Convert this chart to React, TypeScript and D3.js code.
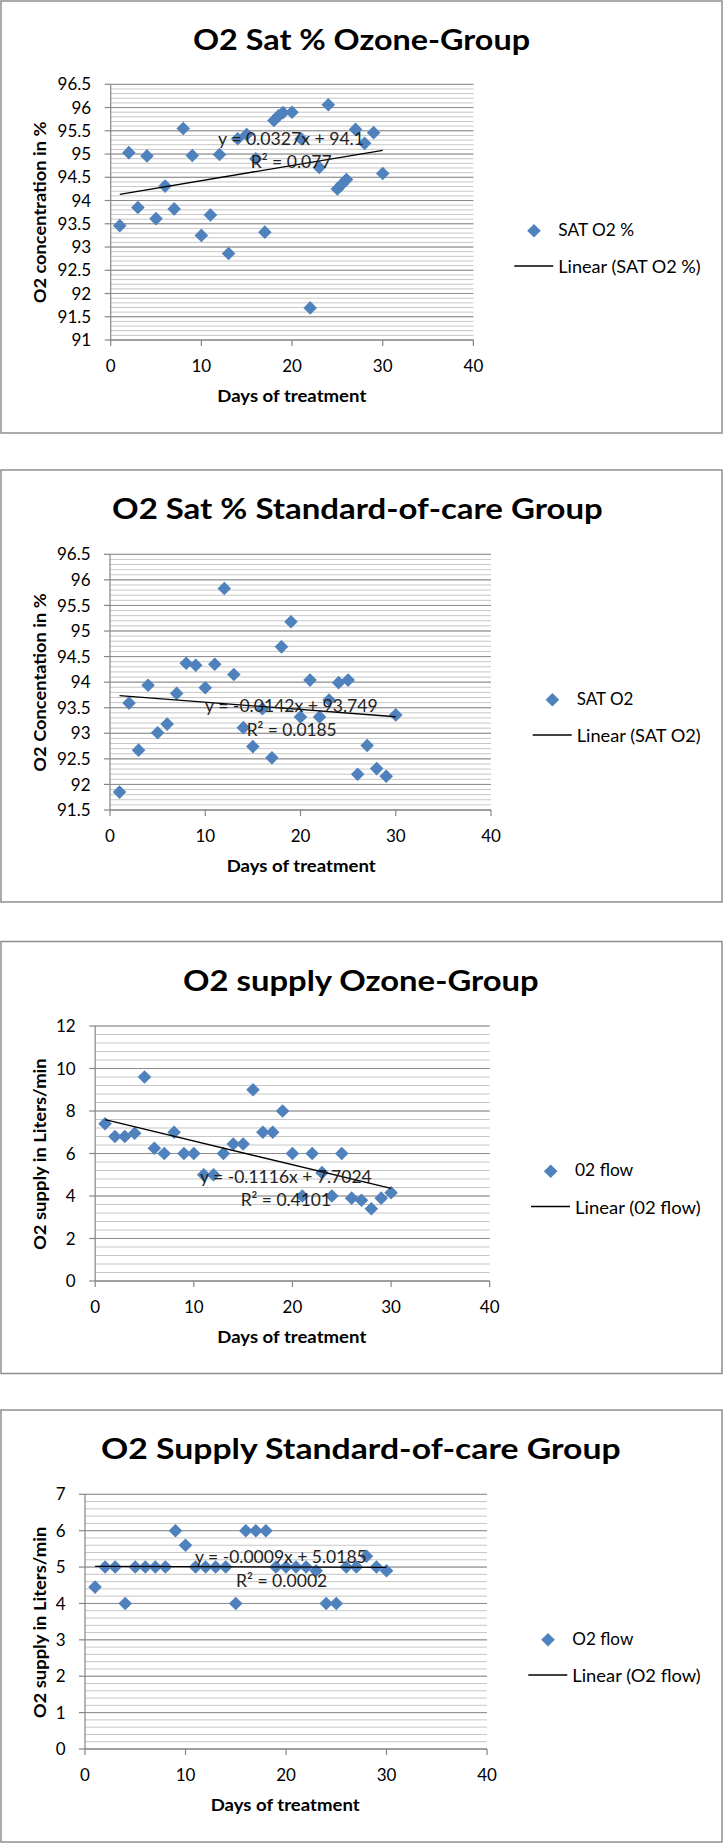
import React from 'react';
import * as d3 from 'd3';

// ---------- DATA ----------
const chartTitles = [
  'O2 Sat % Ozone-Group',
  'O2 Sat % Standard-of-care Group',
  'O2 supply Ozone-Group',
  'O2 Supply  Standard-of-care Group',
];
const yAxisTitles = [
  'O2 concentration in %',
  'O2 Concentation in %',
  'O2 supply in Liters/min',
  'O2 supply in Liters/min',
];
const xAxisTitle = 'Days of treatment';
const seriesNames = ['SAT O2 %', 'SAT O2', '02 flow', 'O2 flow'];
const trendNames = ['Linear (SAT O2 %)', 'Linear (SAT O2)', 'Linear (02 flow)', 'Linear (O2 flow)'];

const xTicks = [0, 10, 20, 30, 40];

const ozoneSatDays = [1, 2, 3, 4, 5, 6, 7, 8, 9, 10, 11, 12, 13, 14, 15, 16, 17, 18, 18.5, 19, 20, 21, 22, 23, 24, 25, 25.5, 26, 27, 28, 29, 30];
const ozoneSatValues = [93.46, 95.03, 93.85, 94.96, 93.61, 94.31, 93.82, 95.55, 94.97, 93.25, 93.69, 94.99, 92.86, 95.33, 95.42, 94.9, 93.32, 95.72, 95.82, 95.89, 95.9, 95.33, 91.69, 94.71, 96.06, 94.25, 94.35, 94.45, 95.53, 95.23, 95.46, 94.58];

const socSatDays = [1, 2, 3, 4, 5, 6, 7, 8, 9, 10, 11, 12, 13, 14, 15, 16, 17, 18, 19, 20, 21, 22, 23, 24, 25, 26, 27, 28, 29, 30];
const socSatValues = [91.85, 93.59, 92.67, 93.94, 93.01, 93.18, 93.78, 94.37, 94.33, 93.89, 94.35, 95.83, 94.15, 93.11, 92.74, 93.48, 92.52, 94.69, 95.18, 93.32, 94.04, 93.32, 93.65, 93.99, 94.04, 92.2, 92.76, 92.31, 92.16, 93.36];

const ozoneFlowDays = [1, 2, 3, 4, 5, 6, 7, 8, 9, 10, 11, 12, 13, 14, 15, 16, 17, 18, 19, 20, 21, 22, 23, 24, 25, 26, 27, 28, 29, 30];
const ozoneFlowValues = [7.4, 6.8, 6.8, 6.95, 9.6, 6.25, 6.0, 7.0, 6.0, 6.0, 5.0, 5.0, 6.0, 6.45, 6.45, 9.0, 7.0, 7.0, 8.0, 6.0, 4.0, 6.0, 5.1, 4.0, 6.0, 3.9, 3.8, 3.4, 3.9, 4.15];

const socFlowDays = [1, 2, 3, 4, 5, 6, 7, 8, 9, 10, 11, 12, 13, 14, 15, 16, 17, 18, 19, 20, 21, 22, 23, 24, 25, 26, 27, 28, 29, 30];
const socFlowValues = [4.45, 5, 5, 4, 5, 5, 5, 5, 6, 5.6, 5, 5, 5, 5, 4, 6, 6, 6, 5, 5, 5, 5, 4.9, 4, 4, 5, 5, 5.3, 5, 4.9];

const trendSlopes = [0.0327, -0.0142, -0.1116, -0.0009];
const trendIntercepts = [94.1, 93.749, 7.7024, 5.0185];
const trendEquations = ['y = 0.0327x + 94.1', 'y = -0.0142x + 93.749', 'y = -0.1116x + 7.7024', 'y = -0.0009x + 5.0185'];
const trendR2 = ['R² = 0.077', 'R² = 0.0185', 'R² = 0.4101', 'R² = 0.0002'];

const yTicks1 = [91, 91.5, 92, 92.5, 93, 93.5, 94, 94.5, 95, 95.5, 96, 96.5];
const yTicks2 = [91.5, 92, 92.5, 93, 93.5, 94, 94.5, 95, 95.5, 96, 96.5];
const yTicks3 = [0, 2, 4, 6, 8, 10, 12];
const yTicks4 = [0, 1, 2, 3, 4, 5, 6, 7];

// ---------- LAYOUT ----------
const FONT = 'Lato, Carlito, Calibri, "Open Sans", sans-serif';
const BLUE = '#4F81BD';

type Cfg = {
  top: number;
  idx: number;
  days: number[];
  values: number[];
  yTicks: number[];
  minorStep: number;
  px0: number; px1: number; py0: number; py1: number;
  titleX: number; titleW: number;
  xtX: number;
  ytMid: number; ytW: number;
  eqX: number; eqW: number; eqY: number;
  r2X: number; r2W: number; r2Y: number;
  legX: number; serW: number; trW: number;
};

const configs: Cfg[] = [
  { top: 1, idx: 0, days: ozoneSatDays, values: ozoneSatValues, yTicks: yTicks1, minorStep: 0.1,
    px0: 110.7, px1: 473.4, py0: 84.3, py1: 340,
    titleX: 193, titleW: 337, xtX: 217.3, ytMid: 212.5, ytW: 181.7,
    eqX: 218, eqW: 146, eqY: 145, r2X: 250.7, r2W: 81, r2Y: 168,
    legX: 558.3, serW: 75.7, trW: 142.4 },
  { top: 470, idx: 1, days: socSatDays, values: socSatValues, yTicks: yTicks2, minorStep: 0.1,
    px0: 110, px1: 491, py0: 554.3, py1: 810,
    titleX: 112, titleW: 490.7, xtX: 226.7, ytMid: 682.5, ytW: 178.3,
    eqX: 205, eqW: 172.7, eqY: 711.5, r2X: 246.7, r2W: 90, r2Y: 735.5,
    legX: 576.7, serW: 56.7, trW: 124 },
  { top: 941.5, idx: 2, days: ozoneFlowDays, values: ozoneFlowValues, yTicks: yTicks3, minorStep: 0.4,
    px0: 95.2, px1: 489.7, py0: 1026, py1: 1281,
    titleX: 183, titleW: 355.7, xtX: 217.3, ytMid: 1154.2, ytW: 191.7,
    eqX: 200, eqW: 171.7, eqY: 1182.5, r2X: 240.7, r2W: 90.3, r2Y: 1206,
    legX: 575, serW: 58.3, trW: 125.7 },
  { top: 1410, idx: 3, days: socFlowDays, values: socFlowValues, yTicks: yTicks4, minorStep: 0.2,
    px0: 85, px1: 487, py0: 1494.3, py1: 1749,
    titleX: 101, titleW: 519.7, xtX: 210.7, ytMid: 1622.5, ytW: 191.7,
    eqX: 195, eqW: 171.7, eqY: 1562.5, r2X: 236, r2W: 91.3, r2Y: 1586.5,
    legX: 572.3, serW: 61, trW: 128.4 },
];

function diamond(r: number) {
  const p = d3.path();
  p.moveTo(0, -r);
  p.lineTo(r, 0);
  p.lineTo(0, r);
  p.lineTo(-r, 0);
  p.closePath();
  return p.toString();
}

function Chart({ cfg }: { cfg: Cfg }) {
  const { top, idx } = cfg;
  const yMin = cfg.yTicks[0];
  const yMax = cfg.yTicks[cfg.yTicks.length - 1];
  const x = d3.scaleLinear().domain([xTicks[0], xTicks[xTicks.length - 1]]).range([cfg.px0, cfg.px1]);
  const y = d3.scaleLinear().domain([yMin, yMax]).range([cfg.py1, cfg.py0]);
  const nMinor = Math.round((yMax - yMin) / cfg.minorStep);
  const minor = d3.range(nMinor + 1).map((i) => yMin + i * cfg.minorStep);
  const dPath = diamond(6.8);
  const xExt = d3.extent(cfg.days) as [number, number];
  const trend = d3.line<number>()
    .x((d) => x(d))
    .y((d) => y(trendSlopes[idx] * d + trendIntercepts[idx]));
  const fmt = (v: number) => String(+v.toFixed(2));

  return (
    <g>
      <rect x={1} y={top} width={721} height={432} fill="#fff" stroke="#8e8e8e" strokeWidth={1.5} />
      <text x={cfg.titleX} y={top + 49} textLength={cfg.titleW} lengthAdjust="spacingAndGlyphs"
        fontFamily={FONT} fontWeight="bold" fontSize={29} fill="#000">
        {chartTitles[idx]}
      </text>
      {/* minor gridlines */}
      {minor.map((v, i) => (
        <line key={'mi' + i} x1={cfg.px0} x2={cfg.px1} y1={y(v)} y2={y(v)} stroke="#c6c6c6" strokeWidth={1} />
      ))}
      {/* major gridlines */}
      {cfg.yTicks.map((v, i) => (
        <line key={'ma' + i} x1={cfg.px0} x2={cfg.px1} y1={y(v)} y2={y(v)} stroke="#8c8c8c" strokeWidth={1} />
      ))}
      {/* y axis */}
      <line x1={cfg.px0} x2={cfg.px0} y1={cfg.py0} y2={cfg.py1} stroke="#868686" strokeWidth={1.2} />
      {cfg.yTicks.map((v, i) => (
        <g key={'yt' + i}>
          <line x1={cfg.px0 - 6} x2={cfg.px0} y1={y(v)} y2={y(v)} stroke="#868686" strokeWidth={1.2} />
          <text x={cfg.px0 - 19.5} y={y(v)} dy="0.36em" textAnchor="end" fontFamily={FONT} fontSize={17} fill="#000">
            {fmt(v)}
          </text>
        </g>
      ))}
      {/* x axis */}
      <line x1={cfg.px0} x2={cfg.px1} y1={cfg.py1} y2={cfg.py1} stroke="#868686" strokeWidth={1.2} />
      {xTicks.map((v, i) => (
        <g key={'xt' + i}>
          <line x1={x(v)} x2={x(v)} y1={cfg.py1} y2={cfg.py1 + 6} stroke="#868686" strokeWidth={1.2} />
          <text x={x(v)} y={cfg.py1 + 32} textAnchor="middle" fontFamily={FONT} fontSize={17} fill="#000">
            {v}
          </text>
        </g>
      ))}
      {/* axis titles */}
      <text x={cfg.xtX} y={cfg.py1 + 62} textLength={149} lengthAdjust="spacingAndGlyphs"
        fontFamily={FONT} fontWeight="bold" fontSize={17} fill="#000">
        {xAxisTitle}
      </text>
      <text transform={`translate(45.5,${cfg.ytMid + cfg.ytW / 2}) rotate(-90)`} x={0} y={0}
        textLength={cfg.ytW} lengthAdjust="spacingAndGlyphs"
        fontFamily={FONT} fontWeight="bold" fontSize={17} fill="#000">
        {yAxisTitles[idx]}
      </text>
      {/* points */}
      {cfg.days.map((d, i) => (
        <path key={'p' + i} d={dPath} transform={`translate(${x(d)},${y(cfg.values[i])})`} fill={BLUE} />
      ))}
      {/* trendline */}
      <path d={trend(xExt) || ''} fill="none" stroke="#000" strokeWidth={1.3} />
      <text x={cfg.eqX} y={cfg.eqY} textLength={cfg.eqW} lengthAdjust="spacingAndGlyphs"
        fontFamily={FONT} fontSize={17.5} fill="#222">
        {trendEquations[idx]}
      </text>
      <text x={cfg.r2X} y={cfg.r2Y} textLength={cfg.r2W} lengthAdjust="spacingAndGlyphs"
        fontFamily={FONT} fontSize={17.5} fill="#222">
        {trendR2[idx]}
      </text>
      {/* legend */}
      <path d={dPath} transform={`translate(${cfg.legX - 24.3},${top + 229.7})`} fill={BLUE} />
      <text x={cfg.legX} y={top + 234.7} textLength={cfg.serW} lengthAdjust="spacingAndGlyphs"
        fontFamily={FONT} fontSize={16.5} fill="#000">
        {seriesNames[idx]}
      </text>
      <line x1={cfg.legX - 44} x2={cfg.legX - 5} y1={top + 265} y2={top + 265} stroke="#000" strokeWidth={1.3} />
      <text x={cfg.legX} y={top + 272.3} textLength={cfg.trW} lengthAdjust="spacingAndGlyphs"
        fontFamily={FONT} fontSize={16.5} fill="#000">
        {trendNames[idx]}
      </text>
    </g>
  );
}

export default function App() {
  return (
    <svg
      width={723}
      height={1843}
      viewBox="0 0 723 1843"
      style={{ position: 'absolute', left: 0, top: 0, background: '#fff' }}
    >
      <rect x={0} y={0} width={723} height={1843} fill="#fff" />
      {configs.map((c) => (
        <Chart key={c.idx} cfg={c} />
      ))}
    </svg>
  );
}
